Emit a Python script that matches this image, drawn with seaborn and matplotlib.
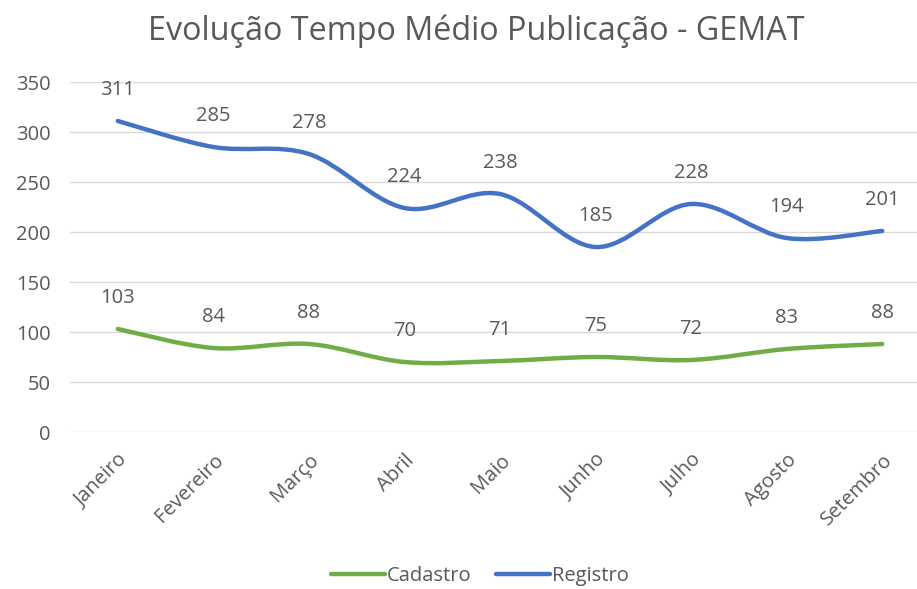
import numpy as np
import pandas as pd
import seaborn as sns
import matplotlib
matplotlib.use("Agg")
import matplotlib.pyplot as plt
from matplotlib.path import Path
from matplotlib.patches import PathPatch
from matplotlib.lines import Line2D

months = ["Janeiro", "Fevereiro", "Março", "Abril", "Maio", "Junho", "Julho", "Agosto", "Setembro"]
cadastro = [103, 84, 88, 70, 71, 75, 72, 83, 88]
registro = [311, 285, 278, 224, 238, 185, 228, 194, 201]
series_names = ["Cadastro", "Registro"]
colors = {"Cadastro": "#70AD47", "Registro": "#4472C4"}
title = "Evolução Tempo Médio Publicação - GEMAT"

df = pd.DataFrame({
    "mes": months * 2,
    "pos": list(range(len(months))) * 2,
    "valor": cadastro + registro,
    "serie": ["Cadastro"] * len(months) + ["Registro"] * len(months),
})

sns.set_theme(style="white")
plt.rcParams["font.family"] = ["Open Sans", "DejaVu Sans"]
TXT = "#595959"
FS = 14.5

fig = plt.figure(figsize=(9.17, 5.89), dpi=100)
ax = fig.add_axes([70 / 917, (589 - 432) / 589, (930 - 70) / 917, 350 / 589])

sns.lineplot(data=df, x="pos", y="valor", hue="serie", palette=colors,
             ax=ax, legend=False, linewidth=0)
for ln in ax.get_lines():
    ln.set_visible(False)


def smooth_path(xs, ys):
    pts = np.column_stack([xs, ys]).astype(float)
    n = len(pts)
    verts = [pts[0]]
    codes = [Path.MOVETO]
    for i in range(n - 1):
        p0 = pts[i - 1] if i > 0 else pts[i]
        p1 = pts[i]
        p2 = pts[i + 1]
        p3 = pts[i + 2] if i + 2 < n else pts[i + 1]
        c1 = p1 + (p2 - p0) / 6.0
        c2 = p2 - (p3 - p1) / 6.0
        verts += [c1, c2, p2]
        codes += [Path.CURVE4] * 3
    return Path(verts, codes)


for name in series_names:
    sub = df[df.serie == name]
    patch = PathPatch(smooth_path(sub.pos.values, sub.valor.values), facecolor="none",
                      edgecolor=colors[name], lw=3.2, capstyle="round", joinstyle="round",
                      zorder=3)
    ax.add_patch(patch)
    for x, y in zip(sub.pos.values, sub.valor.values):
        ax.annotate(f"{y}", (x, y), xytext=(0, 22), textcoords="offset points",
                    ha="center", va="center", fontsize=FS, color=TXT)

ax.set_xlim(-0.5, len(months) - 0.5)
ax.set_ylim(0, 350)
ax.set_yticks(np.arange(0, 351, 50))
ax.set_xticks(range(len(months)))
ax.set_xticklabels(months, rotation=45, ha="right", rotation_mode="anchor")
ax.tick_params(axis="both", colors=TXT, labelsize=FS, length=0)
ax.tick_params(axis="x", pad=13)
ax.tick_params(axis="y", pad=14)
for lab in ax.get_xticklabels() + ax.get_yticklabels():
    lab.set_color(TXT)
ax.grid(axis="y", color="#D9D9D9", lw=1)
ax.set_axisbelow(True)
for s in ax.spines.values():
    s.set_visible(False)
ax.set_xlabel("")
ax.set_ylabel("")

fig.text(476 / 917, 1 - 31 / 589, title, ha="center", va="center", fontsize=23.3, color=TXT)

handles = [Line2D([0], [0], color=colors[n], lw=3.2, solid_capstyle="round") for n in series_names]
fig.legend(handles, series_names, loc="center", bbox_to_anchor=(480 / 917, 1 - 576 / 589),
           ncol=2, frameon=False, fontsize=FS, labelcolor=TXT, handlelength=2.7,
           handletextpad=0.1, columnspacing=1.2)

fig.savefig("out.png", dpi=100)
